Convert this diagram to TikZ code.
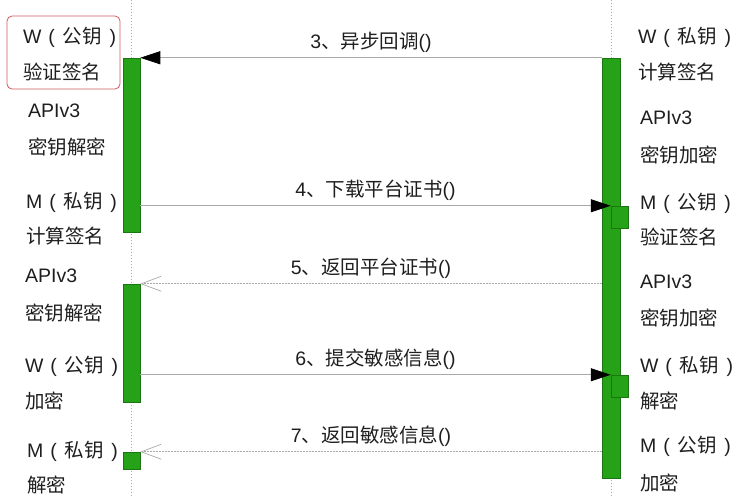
\documentclass[tikz,border=0pt]{standalone}
\usepackage{fontspec}
\setmainfont{Noto Sans CJK SC}
\newfontfamily\latin{Liberation Sans}
\usetikzlibrary{arrows.meta}
\definecolor{bargreen}{RGB}{38,162,24}
\definecolor{bardark}{RGB}{26,118,16}
\definecolor{msggray}{RGB}{168,168,168}
\definecolor{boxred}{RGB}{205,90,90}
\definecolor{txt}{RGB}{30,30,30}
% key holder and key kind, e.g. W ( 公钥 )
\newcommand{\keyof}[2]{{\latin #1\hspace{0.35em}(\hspace{0.4em}}#2{\latin\hspace{0.4em})}}

\begin{document}
\begin{tikzpicture}[x=1pt, y=-1pt,
  actbar/.style={draw=bardark, fill=bargreen, line width=0.5pt, inner sep=0pt, minimum width=17pt},
  side/.style={anchor=west, inner sep=0pt, font=\fontsize{19.5}{21}\selectfont, text=txt},
  msgtext/.style={above=5pt, inner sep=0pt, font=\fontsize{19.5}{21}\selectfont, text=txt},
  msgline/.style={draw=msggray, line width=0.7pt},
  sync/.style={msgline, -{Triangle[length=20pt, width=13pt, color=black]}},
  reply/.style={msgline, dash pattern=on 1.5pt off 1.5pt, -{Straight Barb[length=20pt, width=15pt, color=msggray, line width=0.7pt]}},
  lifeline/.style={draw=msggray, dash pattern=on 1pt off 2pt, line width=0.8pt}]
  \useasboundingbox (0,0) rectangle (749,496);
  % lifelines
  \draw[lifeline] (131,0) -- (131,496);
  \draw[lifeline] (611,0) -- (611,496);
  % activation bars
  \node[actbar, minimum height=174pt] (lbar1) at (131.5,145) {};
  \node[actbar, minimum height=118pt] (lbar2) at (131.5,343) {};
  \node[actbar, minimum height=17pt] (lbox) at (131.5,460.5) {};
  \node[actbar, minimum width=18pt, minimum height=420pt] (rbar) at (611,268) {};
  \node[actbar, minimum height=22pt] (rbox1) at (619.5,217) {};
  \node[actbar, minimum height=22pt] (rbox2) at (619.5,386) {};
  % messages
  \draw[sync] (rbar.north west) -- node[msgtext] (m3) {{\latin 3}、异步回调{\latin ()}} (lbar1.north east);
  \draw[sync] (lbar1.east |- rbox1.north) -- node[msgtext] (m4) {{\latin 4}、下载平台证书{\latin ()}} (rbox1.north west);
  \draw[reply] (rbar.west |- lbar2.north) -- node[msgtext] (m5) {{\latin 5}、返回平台证书{\latin ()}} (lbar2.north east);
  \draw[sync] (lbar2.east |- rbox2.north) -- node[msgtext] (m6) {{\latin 6}、提交敏感信息{\latin ()}} (rbox2.north west);
  \draw[reply] (rbar.west |- lbox.north) -- node[msgtext] (m7) {{\latin 7}、返回敏感信息{\latin ()}} (lbox.north east);
  % left side notes
  \node[side] (l1) at (23,37) {\keyof{W}{公钥}};
  \node[side] (l2) at (23,72) {验证签名};
  \node[side] (l3) at (28,111) {\latin APIv3};
  \node[side] (l4) at (28,147) {密钥解密};
  \node[side] (l5) at (26,202) {\keyof{M}{私钥}};
  \node[side] (l6) at (26,236) {计算签名};
  \node[side] (l7) at (25,276) {\latin APIv3};
  \node[side] (l8) at (25,313) {密钥解密};
  \node[side] (l9) at (25,366) {\keyof{W}{公钥}};
  \node[side] (l10) at (25,401) {加密};
  \node[side] (l11) at (27,451) {\keyof{M}{私钥}};
  \node[side] (l12) at (27,485) {解密};
  \draw[draw=boxred, rounded corners=5pt, line width=0.8pt] (7,16) rectangle (120,89);
  % right side notes
  \node[side] (r1) at (638,37) {\keyof{W}{私钥}};
  \node[side] (r2) at (638,72) {计算签名};
  \node[side] (r3) at (640,118) {\latin APIv3};
  \node[side] (r4) at (640,155) {密钥加密};
  \node[side] (r5) at (640,203) {\keyof{M}{公钥}};
  \node[side] (r6) at (640,237) {验证签名};
  \node[side] (r7) at (640,282) {\latin APIv3};
  \node[side] (r8) at (640,318) {密钥加密};
  \node[side] (r9) at (640,366) {\keyof{W}{私钥}};
  \node[side] (r10) at (640,401) {解密};
  \node[side] (r11) at (640,446) {\keyof{M}{公钥}};
  \node[side] (r12) at (640,483) {加密};
\end{tikzpicture}
\end{document}
